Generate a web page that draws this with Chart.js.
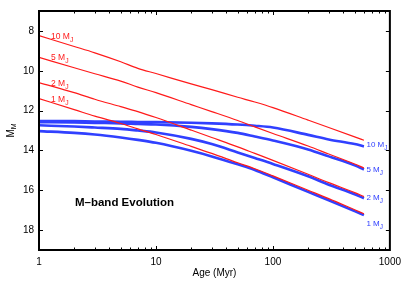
<!DOCTYPE html>
<html><head><meta charset="utf-8">
<script src="https://cdn.jsdelivr.net/npm/chart.js@4.4.1/dist/chart.umd.min.js"></script>
<style>html,body{margin:0;padding:0;background:#fff;}canvas{display:block;}</style>
</head><body>
<canvas id="c" width="407" height="281"></canvas>
<script>
// ---- data ----
const ages   = [1, 2, 3, 5, 7, 10, 20, 30, 50, 70, 100, 200, 300, 500, 600];
const red10  = [8.24, 8.78, 9.10, 9.55, 9.88, 10.14, 10.66, 10.95, 11.33, 11.57, 11.85, 12.48, 12.85, 13.32, 13.49];
const red5   = [9.33, 9.85, 10.15, 10.52, 10.82, 11.10, 11.70, 12.05, 12.50, 12.82, 13.15, 13.78, 14.18, 14.68, 14.88];
const red2   = [10.59, 11.10, 11.43, 11.80, 12.05, 12.35, 12.98, 13.35, 13.82, 14.15, 14.50, 15.20, 15.62, 16.12, 16.32];
const red1   = [11.40, 11.95, 12.28, 12.65, 12.92, 13.20, 13.80, 14.15, 14.62, 14.92, 15.28, 16.00, 16.42, 16.98, 17.18];
const blue10 = [12.52, 12.53, 12.55, 12.56, 12.57, 12.58, 12.61, 12.64, 12.70, 12.76, 12.85, 13.22, 13.45, 13.68, 13.80];
const blue5  = [12.58, 12.60, 12.62, 12.64, 12.67, 12.70, 12.82, 12.93, 13.12, 13.30, 13.50, 13.95, 14.30, 14.75, 14.96];
const blue2  = [12.74, 12.80, 12.85, 12.92, 13.00, 13.10, 13.42, 13.68, 14.10, 14.38, 14.68, 15.30, 15.72, 16.20, 16.40];
const blue1  = [13.03, 13.12, 13.20, 13.35, 13.47, 13.62, 14.02, 14.30, 14.70, 14.98, 15.35, 16.08, 16.50, 17.05, 17.25];
const massLabels = ['10', '5', '2', '1'];
const xTickValues = [1, 10, 100, 1000];
const yTickValues = [8, 10, 12, 14, 16, 18];
const xTitle = 'Age (Myr)';
const plotTitle = 'M\u2013band Evolution';

const RED = '#ff1a1a', BLUE = '#3040ff';
const FONT = '"Liberation Sans", Arial, Helvetica, sans-serif';
const reds = [red10, red5, red2, red1];
const blues = [blue10, blue5, blue2, blue1];
const toXY = arr => arr.map((v, i) => ({x: ages[i], y: v}));

const datasets = [];
blues.forEach((b, i) => datasets.push({label: 'blue' + massLabels[i], data: toXY(b), borderColor: BLUE, borderWidth: 2.6, pointRadius: 0, fill: false, cubicInterpolationMode: 'monotone', order: 2}));
reds.forEach((r, i) => datasets.push({label: 'red' + massLabels[i], data: toXY(r), borderColor: RED, borderWidth: 1.2, pointRadius: 0, fill: false, cubicInterpolationMode: 'monotone', order: 1}));

function massText(ctx, x, y, mass, color, size) {
  ctx.fillStyle = color;
  ctx.font = size + 'px ' + FONT;
  ctx.textAlign = 'left';
  ctx.textBaseline = 'alphabetic';
  const main = mass + ' M';
  ctx.fillText(main, x, y);
  const w = ctx.measureText(main).width;
  ctx.font = (size * 0.8) + 'px ' + FONT;
  ctx.fillText('J', x + w, y + 3);
}

const decor = {
  id: 'decor',
  afterDraw(chart) {
    const ctx = chart.ctx, a = chart.chartArea;
    const xs = chart.scales.x, ys = chart.scales.y;
    ctx.save();
    // frame
    ctx.strokeStyle = '#000';
    ctx.lineWidth = 2;
    ctx.strokeRect(a.left, a.top, a.right - a.left, a.bottom - a.top);
    // ticks
    ctx.lineWidth = 1;
    ctx.beginPath();
    yTickValues.forEach(v => {
      const y = Math.round(ys.getPixelForValue(v)) + 0.5;
      ctx.moveTo(a.left, y); ctx.lineTo(a.left + 4, y);
      ctx.moveTo(a.right, y); ctx.lineTo(a.right - 4, y);
    });
    for (let d = 1; d < 1000; d *= 10) {
      for (let m = 1; m < 10; m++) {
        const v = d * m;
        const x = Math.round(xs.getPixelForValue(v)) + 0.5;
        const len = m === 1 ? 4 : 2.5;
        ctx.moveTo(x, a.bottom); ctx.lineTo(x, a.bottom - len);
        ctx.moveTo(x, a.top); ctx.lineTo(x, a.top + len);
      }
    }
    ctx.stroke();
    // red labels at start of each red curve
    reds.forEach((r, i) => {
      massText(ctx, xs.getPixelForValue(ages[0]) + 12, ys.getPixelForValue(r[0]) + 3, massLabels[i], RED, 8.5);
    });
    // blue labels at end of each blue curve
    const dy = [1, 2, 2, 11];
    blues.forEach((b, i) => {
      const n = b.length - 1;
      massText(ctx, xs.getPixelForValue(ages[n]) + 2.5, ys.getPixelForValue(b[n]) + dy[i], massLabels[i], BLUE, 8);
    });
    // plot title inside
    ctx.fillStyle = '#000';
    ctx.font = 'bold 11.5px ' + FONT;
    ctx.textAlign = 'left';
    ctx.textBaseline = 'middle';
    ctx.fillText(plotTitle, xs.getPixelForValue(2.03), ys.getPixelForValue(16.62));
    // x title
    ctx.font = '10px ' + FONT;
    ctx.textAlign = 'center';
    ctx.textBaseline = 'middle';
    ctx.fillText(xTitle, (a.left + a.right) / 2, a.bottom + 23);
    // y title M_M rotated
    ctx.translate(13.5, (a.top + a.bottom) / 2 + 7);
    ctx.rotate(-Math.PI / 2);
    ctx.textAlign = 'left';
    ctx.textBaseline = 'alphabetic';
    ctx.font = '10px ' + FONT;
    ctx.fillText('M', 0, 0);
    const w = ctx.measureText('M').width;
    ctx.font = '7px ' + FONT;
    ctx.fillText('M', w, 2.5);
    ctx.restore();
  }
};

new Chart(document.getElementById('c'), {
  type: 'line',
  data: {datasets},
  options: {
    responsive: false,
    animation: false,
    devicePixelRatio: 1,
    layout: {padding: {top: 4, right: 16, left: 0, bottom: 0}},
    plugins: {legend: {display: false}, tooltip: {enabled: false}, title: {display: false}},
    scales: {
      x: {
        type: 'logarithmic', min: 1, max: 1000,
        afterFit: s => { s.height = 31; },
        afterBuildTicks: s => { s.ticks = xTickValues.map(v => ({value: v})); },
        grid: {display: false, drawTicks: false},
        border: {display: false},
        ticks: {autoSkip: false, maxRotation: 0, padding: 6, color: '#000', font: {family: FONT, size: 10},
                callback: v => String(v)}
      },
      y: {
        type: 'linear', reverse: true, min: 7, max: 19,
        afterFit: s => { s.width = 39; },
        afterBuildTicks: s => { s.ticks = yTickValues.map(v => ({value: v})); },
        grid: {display: false, drawTicks: false},
        border: {display: false},
        ticks: {padding: 5, color: '#000', font: {family: FONT, size: 10}, callback: v => String(v)}
      }
    }
  },
  plugins: [decor]
});
</script>
</body></html>
